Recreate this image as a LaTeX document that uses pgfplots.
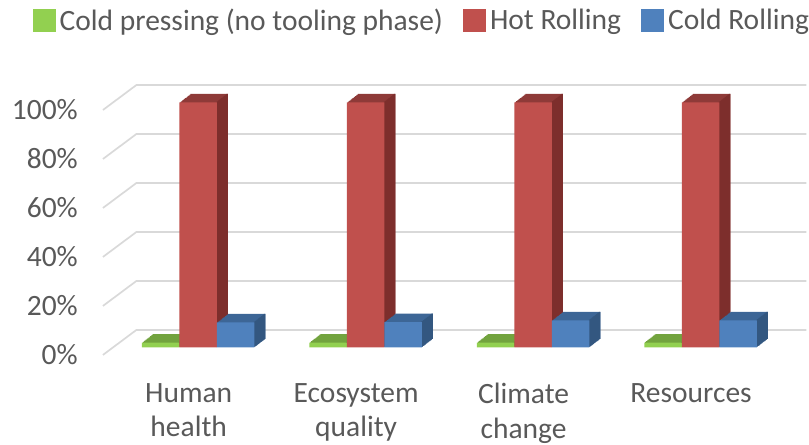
\documentclass[border=0pt]{standalone}
\usepackage{pgfplots}
\pgfplotsset{compat=1.18}
\usepackage{pgfplotstable}
\usepackage{fontspec}
\setmainfont{Carlito}
\definecolor{txt}{HTML}{595959}
\definecolor{gridc}{HTML}{D9D9D9}
\definecolor{gF}{HTML}{92D050}\definecolor{gT}{HTML}{72A33E}\definecolor{gS}{HTML}{5E8A32}
\definecolor{rF}{HTML}{C0504D}\definecolor{rT}{HTML}{8E3A38}\definecolor{rS}{HTML}{7D2E2C}
\definecolor{bF}{HTML}{4F81BD}\definecolor{bT}{HTML}{3D6696}\definecolor{bS}{HTML}{335780}
\pgfplotstableread{
x g r b
0 2 100 10.2
1 2 100 10.3
2 2 100 11
3 2 100 11
}\data
\begin{document}
\begin{tikzpicture}
\path (-103pt,-90pt) rectangle (706pt,355pt);
\begin{axis}[
 at={(0pt,0pt)}, anchor=south west,
 scale only axis, width=670pt, height=245pt,
 xmin=-0.5, xmax=3.5, ymin=0, ymax=100,
 clip=false,
 axis line style={draw=none}, tick style={draw=none},
 xtick={0,1,2,3},
 xticklabels={{Human\\health},{Ecosystem\\quality},{Climate\\change},{Resources}},
 ytick={0,20,40,60,80,100},
 yticklabels={0\%,20\%,40\%,60\%,80\%,100\%},
 ticklabel style={font=\fontsize{29.5}{34.5}\selectfont, text=txt},
 xticklabel style={align=center, anchor=north, inner sep=0pt, yshift=-28pt, xshift=2pt},
 yticklabel style={anchor=east, inner sep=0pt, xshift=-25pt},
 legend columns=3,
 legend style={at={(0.4746,1.367)}, anchor=center, draw=none, fill=none,
   inner sep=0pt, outer sep=0pt, nodes={inner sep=0pt, outer sep=0pt},
   font=\fontsize{29.5}{34.5}\selectfont, text=txt,
   /tikz/every even column/.append style={column sep=20pt}},
 legend image code/.code={\fill[#1] (0pt,-11.5pt) rectangle (23pt,11.5pt); \path (27pt,0pt);},
]
\pgfplotsinvokeforeach{0,20,40,60,80,100}{
 \draw[gridc, line width=1.7pt] (axis cs:-0.5,#1) -- ([shift={(33.5pt,25pt)}]axis cs:-0.5,#1) -- ([shift={(33.5pt,25pt)}]axis cs:3.5,#1);
}
% green
\pgfplotsinvokeforeach{12,11,...,1}{
 \addplot[ybar, bar width=37.5pt, bar shift=-26pt, fill=gT, draw=none, forget plot, xshift=#1*0.9167pt, yshift=7.5pt+#1*0.7083pt] table[x=x,y=g]{\data};
}
\pgfplotsinvokeforeach{12,11,...,1}{
 \addplot[ybar, bar width=1.5pt, bar shift=-8pt, fill=gS, draw=none, forget plot, xshift=#1*0.9167pt, yshift=7.5pt+#1*0.7083pt] table[x=x,y=g]{\data};
}
\addplot[ybar, bar width=37.5pt, bar shift=-26pt, fill=gF, draw=none, forget plot, yshift=7.5pt] table[x=x,y=g]{\data};
% red
\pgfplotsinvokeforeach{12,11,...,1}{
 \addplot[ybar, bar width=37.5pt, bar shift=11.5pt, fill=rT, draw=none, forget plot, xshift=#1*0.9167pt, yshift=7.5pt+#1*0.7083pt] table[x=x,y=r]{\data};
}
\pgfplotsinvokeforeach{12,11,...,1}{
 \addplot[ybar, bar width=1.5pt, bar shift=29.5pt, fill=rS, draw=none, forget plot, xshift=#1*0.9167pt, yshift=7.5pt+#1*0.7083pt] table[x=x,y=r]{\data};
}
\addplot[ybar, bar width=37.5pt, bar shift=11.5pt, fill=rF, draw=none, forget plot, yshift=7.5pt] table[x=x,y=r]{\data};
% blue
\pgfplotsinvokeforeach{12,11,...,1}{
 \addplot[ybar, bar width=37.5pt, bar shift=49pt, fill=bT, draw=none, forget plot, xshift=#1*0.9167pt, yshift=7.5pt+#1*0.7083pt] table[x=x,y=b]{\data};
}
\pgfplotsinvokeforeach{12,11,...,1}{
 \addplot[ybar, bar width=1.5pt, bar shift=67pt, fill=bS, draw=none, forget plot, xshift=#1*0.9167pt, yshift=7.5pt+#1*0.7083pt] table[x=x,y=b]{\data};
}
\addplot[ybar, bar width=37.5pt, bar shift=49pt, fill=bF, draw=none, forget plot, yshift=7.5pt] table[x=x,y=b]{\data};
\addlegendimage{fill=gF, draw=none}
\addlegendentry{Cold pressing (no tooling phase)}
\addlegendimage{fill=rF, draw=none}
\addlegendentry{Hot Rolling}
\addlegendimage{fill=bF, draw=none}
\addlegendentry{Cold Rolling}
\end{axis}
\end{tikzpicture}
\end{document}
